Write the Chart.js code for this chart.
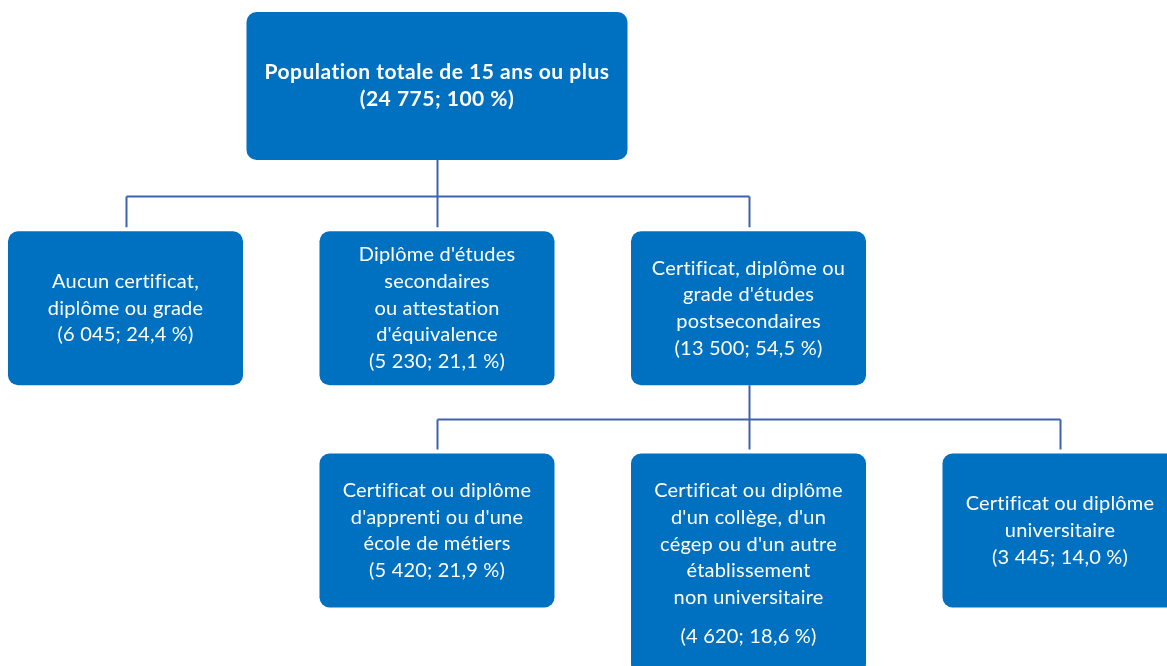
<!DOCTYPE html>
<html lang="fr">
<head>
<meta charset="utf-8">
<title>Population selon le plus haut niveau de scolarité</title>
<script src="https://cdn.jsdelivr.net/npm/chart.js@4.4.1/dist/chart.umd.min.js"></script>
<style>
  html, body { margin: 0; padding: 0; background: #ffffff; }
  #wrap { width: 1167px; height: 666px; overflow: hidden; }
</style>
</head>
<body>
<div id="wrap"><canvas id="tree" width="1167" height="666"></canvas></div>
<script>
// ------------------ DATA ------------------
const nodeLabels = [
    ['Population totale de 15 ans ou plus'],
    ['Aucun certificat,', 'diplôme ou grade'],
    ["Diplôme d'études", 'secondaires', 'ou attestation', "d'équivalence"],
    ['Certificat, diplôme ou', "grade d'études", 'postsecondaires'],
    ['Certificat ou diplôme', "d'apprenti ou d'une", 'école de métiers'],
    ['Certificat ou diplôme', "d'un collège, d'un", "cégep ou d'un autre", 'établissement', 'non universitaire'],
    ['Certificat ou diplôme', 'universitaire']
];
const nodeCounts = [24775, 6045, 5230, 13500, 5420, 4620, 3445];
const nodePercents = [100, 24.4, 21.1, 54.5, 21.9, 18.6, 14.0];
const nodeParents = [-1, 0, 0, 0, 3, 3, 3];

// ------------------ STYLE ------------------
const BOX_COLOR = '#0070c0';
const LINK_COLOR = '#3f62ae';
const FONT = 'Lato, "Open Sans", sans-serif';
const LINE_H = 26.7;

// ------------------ TREE LAYOUT (levels / columns) ------------------
const levels = nodeParents.map(function (p, i) {
    let d = 0, k = i;
    while (nodeParents[k] >= 0) { k = nodeParents[k]; d++; }
    return d;
});
const cols = new Array(nodeParents.length).fill(0);
nodeParents.forEach(function (p, i) {
    if (p < 0) return;
    const siblings = nodeParents.map((q, j) => q === p ? j : -1).filter(j => j >= 0);
    const idx = siblings.indexOf(i);
    cols[i] = cols[p] + idx - (siblings.length - 1) / 2;
});
const minCol = Math.min.apply(null, cols);
const points = cols.map((c, i) => ({ x: c - minCol, y: levels[i] }));

function fmtCount(n) {
    return String(n).replace(/\B(?=(\d{3})+(?!\d))/g, ' ');
}
function fmtPct(v) {
    return (v === 100 ? '100' : v.toFixed(1).replace('.', ',')) + ' %';
}
function linesFor(i) {
    return nodeLabels[i].concat(['(' + fmtCount(nodeCounts[i]) + '; ' + fmtPct(nodePercents[i]) + ')']);
}
// extra space before the value line when the label is long
function gapFor(i) { return nodeLabels[i].length >= 5 ? 12 : 0; }
function stdHeight(i) { return levels[i] === 0 ? 148 : 154; }
function boxSize(i) {
    if (levels[i] === 0) return { w: 381, h: 148 };
    const block = linesFor(i).length * LINE_H + gapFor(i);
    return { w: 235, h: block <= 140 ? 154 : block + 48 };
}

// ------------------ DRAW PLUGIN ------------------
const treePlugin = {
    id: 'treeBoxes',
    afterDatasetsDraw(chart) {
        const ctx = chart.ctx;
        const els = chart.getDatasetMeta(0).data;
        const top = i => els[i].y - stdHeight(i) / 2;
        ctx.save();

        // connectors
        ctx.strokeStyle = LINK_COLOR;
        ctx.lineWidth = 2;
        const parentsWithKids = [...new Set(nodeParents.filter(p => p >= 0))];
        parentsWithKids.forEach(function (p) {
            const kids = nodeParents.map((q, j) => q === p ? j : -1).filter(j => j >= 0);
            const px = Math.round(els[p].x) + 0.5;
            const pBottom = top(p) + boxSize(p).h;
            const kTop = top(kids[0]);
            const barY = Math.round((pBottom + kTop) / 2) + 0.5;
            ctx.beginPath();
            ctx.moveTo(px, pBottom);
            ctx.lineTo(px, barY);
            const xs = kids.map(k => Math.round(els[k].x) + 0.5);
            ctx.moveTo(Math.min.apply(null, xs), barY);
            ctx.lineTo(Math.max.apply(null, xs), barY);
            xs.forEach(function (x) {
                ctx.moveTo(x, barY);
                ctx.lineTo(x, kTop - 4);
            });
            ctx.stroke();
        });

        // boxes + text
        els.forEach(function (el, i) {
            const s = boxSize(i);
            const x0 = el.x - s.w / 2;
            const y0 = top(i);
            ctx.fillStyle = BOX_COLOR;
            ctx.beginPath();
            ctx.roundRect(x0, y0, s.w, s.h, 10);
            ctx.fill();

            const lines = linesFor(i);
            const bold = levels[i] === 0;
            ctx.font = (bold ? 'bold 21px ' : '20px ') + FONT;
            ctx.letterSpacing = bold ? '0.5px' : '0.2px';
            ctx.fillStyle = '#ffffff';
            ctx.textAlign = 'center';
            ctx.textBaseline = 'middle';
            const gap = gapFor(i);
            const block = lines.length * LINE_H + gap;
            let y = y0 + s.h / 2 - block / 2 + LINE_H / 2;
            lines.forEach(function (t, k) {
                if (k === lines.length - 1) y += gap;
                ctx.fillText(t, el.x, y);
                y += LINE_H;
            });
        });
        ctx.restore();
    }
};

new Chart(document.getElementById('tree'), {
    type: 'scatter',
    data: {
        datasets: [{
            label: 'Scolarité',
            data: points,
            pointRadius: 0,
            pointHoverRadius: 0
        }]
    },
    options: {
        responsive: false,
        animation: false,
        layout: { padding: 0 },
        scales: {
            x: { type: 'linear', display: false, min: -0.4029, max: 3.3435 },
            y: { type: 'linear', display: false, reverse: true, min: -0.387, max: 2.6096 }
        },
        plugins: { legend: { display: false }, tooltip: { enabled: false } }
    },
    plugins: [treePlugin]
});
</script>
</body>
</html>
